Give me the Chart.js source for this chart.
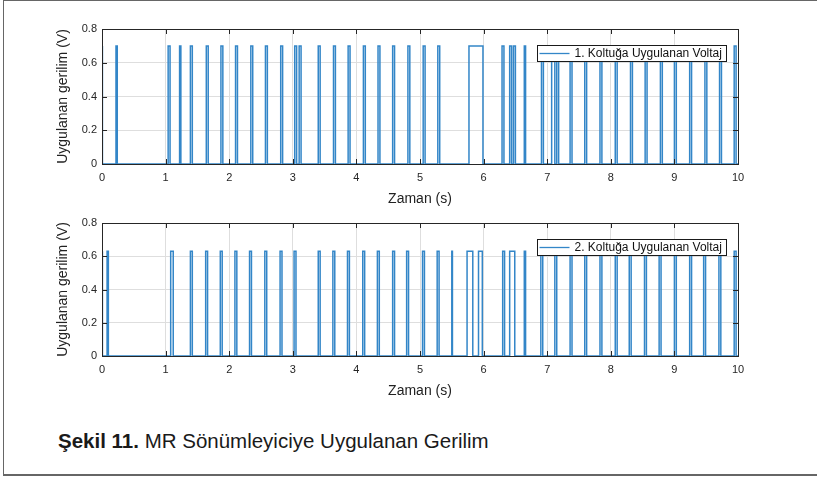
<!DOCTYPE html>
<html>
<head>
<meta charset="utf-8">
<script src="https://cdn.jsdelivr.net/npm/chart.js@4.4.1/dist/chart.umd.min.js"></script>
<style>
  html, body { margin: 0; padding: 0; background: #fff; }
  body { width: 817px; height: 478px; position: relative; overflow: hidden; font-family: "Liberation Sans", Arial, sans-serif; }
  #frame { position: absolute; left: 3px; top: 0px; width: 830px; height: 476px; border-left: 1.5px solid #666; border-top: 1.5px solid #666; border-bottom: 2px solid #666; box-sizing: border-box; }
  .wrap { position: absolute; left: 0; width: 817px; height: 215px; }
  #w1 { top: 0; }
  #w2 { top: 194px; }
  #caption { position: absolute; left: 58px; top: 430.5px; font-size: 20.5px; line-height: 20.5px; color: #1a1a1a; white-space: nowrap; }
  #caption b { font-weight: bold; }
</style>
</head>
<body>
<div id="frame"></div>
<div class="wrap" id="w1"><canvas id="c1"></canvas></div>
<div class="wrap" id="w2"><canvas id="c2"></canvas></div>
<div id="caption"><b>Şekil 11.</b> MR Sönümleyiciye Uygulanan Gerilim</div>
<script>
// ---- data ----
const xTicks = [0, 1, 2, 3, 4, 5, 6, 7, 8, 9, 10];
const yTicks = [0, 0.2, 0.4, 0.6, 0.8];
const xLabel = "Zaman (s)";
const yLabel = "Uygulanan gerilim (V)";

const label1 = "1. Koltuğa Uygulanan Voltaj";
const amp1 = 0.70;
const on1  = [0.00, 0.22, 1.04, 1.22, 1.39, 1.64, 1.87, 2.10, 2.34, 2.57, 2.81, 3.03, 3.10, 3.40, 3.64, 3.87, 4.11, 4.34, 4.57, 4.81, 5.05, 5.28, 5.77, 6.29, 6.41, 6.47, 6.64, 6.91, 7.07, 7.15, 7.36, 7.59, 7.83, 8.07, 8.31, 8.54, 8.78, 9.00, 9.24, 9.48, 9.71, 9.94];
const off1 = [0.01, 0.24, 1.07, 1.24, 1.42, 1.67, 1.90, 2.13, 2.37, 2.60, 2.84, 3.06, 3.13, 3.43, 3.67, 3.90, 4.14, 4.37, 4.60, 4.84, 5.08, 5.31, 5.99, 6.32, 6.44, 6.50, 6.66, 6.94, 7.12, 7.18, 7.39, 7.62, 7.86, 8.10, 8.34, 8.57, 8.81, 9.03, 9.27, 9.51, 9.74, 9.97];

const label2 = "2. Koltuğa Uygulanan Voltaj";
const amp2 = 0.63;
const on2  = [0.00, 0.08, 1.08, 1.39, 1.63, 1.86, 2.09, 2.32, 2.56, 2.80, 3.02, 3.40, 3.63, 3.86, 4.10, 4.33, 4.57, 4.79, 5.04, 5.27, 5.50, 5.74, 5.92, 6.30, 6.41, 6.64, 6.90, 7.12, 7.36, 7.59, 7.83, 8.07, 8.29, 8.53, 8.76, 9.00, 9.24, 9.46, 9.70, 9.94];
const off2 = [0.01, 0.10, 1.12, 1.42, 1.66, 1.89, 2.12, 2.35, 2.59, 2.83, 3.05, 3.43, 3.66, 3.89, 4.13, 4.36, 4.60, 4.82, 5.07, 5.30, 5.51, 5.83, 5.98, 6.33, 6.49, 6.66, 6.93, 7.15, 7.39, 7.62, 7.86, 8.10, 8.32, 8.56, 8.79, 9.03, 9.27, 9.49, 9.73, 9.97];

// ---- build step traces from the pulse edges ----
function trace(on, off, amp) {
  const pts = [];
  for (let i = 0; i < on.length; i++) {
    pts.push({x: on[i], y: 0}, {x: on[i], y: amp}, {x: off[i], y: amp}, {x: off[i], y: 0});
  }
  pts.push({x: xTicks[xTicks.length - 1], y: 0});
  return pts;
}

const LINE = '#3386c8';
const AXC = '#262626';
const FONT = '"Liberation Sans", Arial, sans-serif';

const boxPlugin = {
  id: 'matlabBox',
  afterDraw(chart, args, opts) {
    const {ctx, chartArea: a, scales: {x, y}} = chart;
    ctx.save();
    ctx.strokeStyle = AXC;
    ctx.lineWidth = 1;
    // inward ticks
    ctx.beginPath();
    xTicks.forEach(v => {
      const px = Math.round(x.getPixelForValue(v)) + 0.5;
      ctx.moveTo(px, a.bottom); ctx.lineTo(px, a.bottom - 5);
      ctx.moveTo(px, a.top); ctx.lineTo(px, a.top + 5);
    });
    yTicks.forEach(v => {
      const py = Math.round(y.getPixelForValue(v)) + 0.5;
      ctx.moveTo(a.left, py); ctx.lineTo(a.left + 5, py);
      ctx.moveTo(a.right, py); ctx.lineTo(a.right - 5, py);
    });
    ctx.stroke();
    // box
    ctx.strokeRect(Math.round(a.left) + 0.5, Math.round(a.top) + 0.5, Math.round(a.right - a.left), Math.round(a.bottom - a.top));
    // legend
    const bx = Math.round(a.right) - 200.5, by = Math.round(a.top) + 16.5, bw = 189, bh = 16;
    ctx.fillStyle = '#fff';
    ctx.fillRect(bx, by, bw, bh);
    ctx.strokeStyle = '#1a1a1a';
    ctx.strokeRect(bx, by, bw, bh);
    const ds = chart.data.datasets[0];
    ctx.strokeStyle = ds.borderColor;
    ctx.lineWidth = 1.3;
    ctx.beginPath();
    ctx.moveTo(bx + 2, by + bh / 2); ctx.lineTo(bx + 32, by + bh / 2);
    ctx.stroke();
    ctx.fillStyle = '#111';
    ctx.font = '12px ' + FONT;
    ctx.textBaseline = 'middle';
    ctx.textAlign = 'left';
    ctx.fillText(ds.label, bx + 37, by + bh / 2 + 0.5);
    ctx.restore();
  }
};

function makeChart(id, label, data, xHeight, xTitlePad) {
  return new Chart(document.getElementById(id), {
    type: 'line',
    data: { datasets: [{ label, data, borderColor: LINE, borderWidth: 1.5, pointRadius: 0, tension: 0, fill: false }] },
    options: {
      responsive: true,
      maintainAspectRatio: false,
      animation: false,
      events: [],
      layout: { padding: { top: 29, right: 79, left: 0, bottom: 0 } },
      plugins: { legend: { display: false }, tooltip: { enabled: false } },
      scales: {
        x: {
          type: 'linear', min: 0, max: 10,
          afterBuildTicks: s => { s.ticks = xTicks.map(v => ({value: v})); },
          afterFit: s => { s.height = xHeight; },
          grid: { color: '#dedede', drawTicks: false, lineWidth: 1 },
          border: { display: false },
          ticks: { color: AXC, font: { family: FONT, size: 11 }, padding: 7, maxRotation: 0 },
          title: { display: true, text: xLabel, color: '#222', font: { family: FONT, size: 14 }, padding: { top: 0, bottom: xTitlePad } }
        },
        y: {
          min: 0, max: 0.8,
          afterBuildTicks: s => { s.ticks = yTicks.map(v => ({value: v})); },
          afterFit: s => { s.width = 102; },
          grid: { color: '#dedede', drawTicks: false, lineWidth: 1 },
          border: { display: false },
          ticks: { color: AXC, font: { family: FONT, size: 11 }, padding: 5, callback: v => String(Math.round(v * 10) / 10) },
          title: { display: true, text: yLabel, color: '#222', font: { family: FONT, size: 14 }, padding: { top: 54.6, bottom: 0 } }
        }
      }
    },
    plugins: [boxPlugin]
  });
}

makeChart('c1', label1, trace(on1, off1, amp1), 51, 7.6);
makeChart('c2', label2, trace(on2, off2, amp2), 53, 9.6);
</script>
</body>
</html>
